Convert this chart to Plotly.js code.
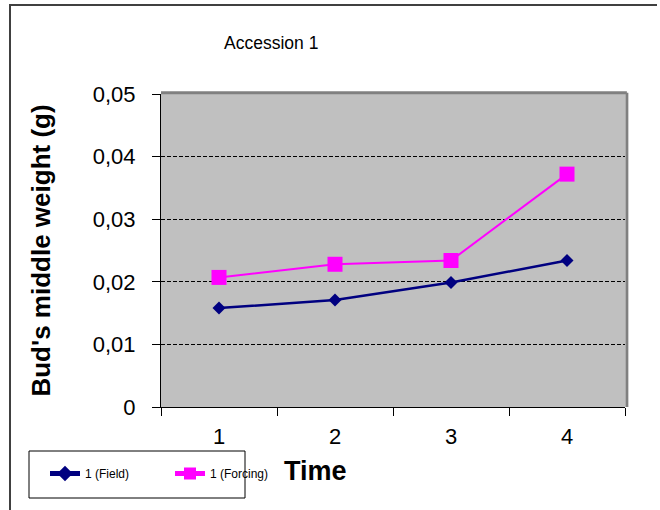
<!DOCTYPE html>
<html>
<head>
<meta charset="utf-8">
<script src="https://cdn.plot.ly/plotly-3.0.1.min.js"></script>
<style>
  html, body { margin: 0; padding: 0; background: #fff; }
  #wrap { position: relative; width: 660px; height: 510px; }
  #chart { width: 660px; height: 510px; }
  #frame { position: absolute; left: 9px; top: 4px; width: 646px; height: 520px;
           border-top: 2px solid #404040; border-left: 2px solid #404040; pointer-events: none; }
</style>
</head>
<body>
<div id="wrap">
  <div id="chart"></div>
  <div id="frame"></div>
</div>
<script>
const times = ['1', '2', '3', '4'];
const fieldWeight = [0.0158, 0.0171, 0.0199, 0.0234];
const forcingWeight = [0.0207, 0.0228, 0.0234, 0.0372];
const seriesNames = ['1 (Field)', '1 (Forcing)'];
const yTickVals = [0, 0.01, 0.02, 0.03, 0.04, 0.05];
const yTickText = ['0', '0,01', '0,02', '0,03', '0,04', '0,05'];

const font = 'Liberation Sans, Arial, sans-serif';

const traces = [
  {
    x: times, y: fieldWeight, name: seriesNames[0], type: 'scatter', mode: 'lines+markers',
    line: { color: '#000080', width: 2.5 },
    marker: { symbol: 'diamond', size: 10, color: '#000080' }
  },
  {
    x: times, y: forcingWeight, name: seriesNames[1], type: 'scatter', mode: 'lines+markers',
    line: { color: '#FF00FF', width: 2 },
    marker: { symbol: 'square', size: 15, color: '#FF00FF' }
  }
];

const PX = 161, PY = 94, PW = 464, PH = 313;
const px = v => (v - PX) / PW;
const py = v => (PY + PH - v) / PH;

const layout = {
  width: 660, height: 510,
  margin: { l: 161, r: 35, t: 94, b: 103 },
  paper_bgcolor: '#ffffff',
  plot_bgcolor: '#C0C0C0',
  font: { family: font, color: '#000' },
  separators: ',.',
  title: {
    text: 'Accession 1',
    font: { family: font, size: 17.5, color: '#000' },
    x: 0.411, xref: 'container', xanchor: 'center',
    y: 0.915, yref: 'container', yanchor: 'middle'
  },
  xaxis: {
    type: 'category',
    tickson: 'boundaries',
    ticks: 'outside', ticklen: 8, tickcolor: '#000', tickwidth: 1,
    showline: true, linecolor: '#000', linewidth: 1,
    showgrid: false, zeroline: false,
    tickfont: { family: font, size: 22, color: '#000' },
    ticklabelstandoff: 10,
    range: [-0.5, 3.5],
    fixedrange: true
  },
  yaxis: {
    range: [0, 0.05],
    tickvals: yTickVals, ticktext: yTickText,
    ticks: 'outside', ticklen: 8, tickcolor: '#000', tickwidth: 1,
    showline: true, linecolor: '#000', linewidth: 1,
    showgrid: true, gridcolor: '#000', gridwidth: 1, griddash: '4px,2px',
    zeroline: false,
    tickfont: { family: font, size: 22, color: '#000' },
    ticklabelstandoff: 12,
    title: { text: "Bud's middle weight (g)", font: { family: font, size: 26, color: '#000', weight: 'bold' }, standoff: 34 },
    fixedrange: true
  },
  showlegend: true,
  legend: {
    orientation: 'h',
    x: px(45), xanchor: 'left',
    y: py(459), yanchor: 'top',
    bgcolor: 'rgba(0,0,0,0)',
    borderwidth: 0,
    font: { family: font, size: 12, color: '#000' },
    entrywidth: 80, entrywidthmode: 'pixels',
    itemsizing: 'constant'
  },
  annotations: [
    {
      text: 'Time', xref: 'paper', yref: 'paper',
      x: px(315), y: py(471),
      xanchor: 'center', yanchor: 'middle', showarrow: false,
      font: { family: font, size: 27, color: '#000', weight: 'bold' }
    }
  ],
  shapes: [
    { type: 'line', xref: 'paper', yref: 'paper', x0: 0, x1: 1.004, y0: 1.004, y1: 1.004, line: { color: '#808080', width: 3 } },
    { type: 'line', xref: 'paper', yref: 'paper', x0: 1.004, x1: 1.004, y0: 0, y1: 1.004, line: { color: '#808080', width: 3 } },
    { type: 'rect', xref: 'paper', yref: 'paper', x0: px(29), x1: px(245), y0: py(451), y1: py(498),
      fillcolor: '#ffffff', line: { color: '#000', width: 1 }, layer: 'below' }
  ]
};

Plotly.newPlot('chart', traces, layout, { displayModeBar: false, staticPlot: true });
</script>
</body>
</html>
